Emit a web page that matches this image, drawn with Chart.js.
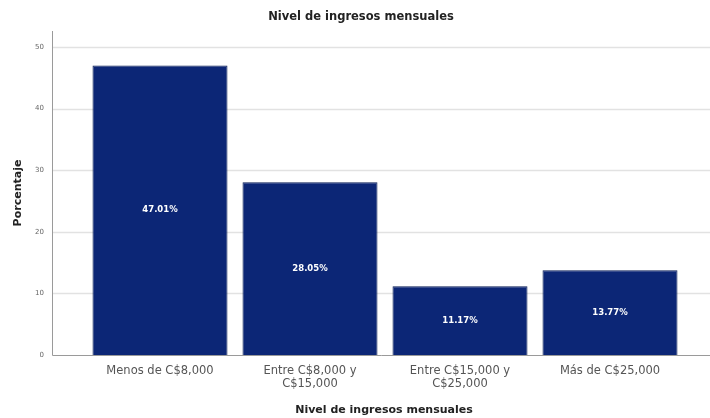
<!DOCTYPE html>
<html>
<head>
<meta charset="utf-8">
<script src="https://cdn.jsdelivr.net/npm/chart.js@4"></script>
<style>
  html, body { margin: 0; padding: 0; background: #fff; }
  #wrap { width: 710px; height: 418px; }
</style>
</head>
<body>
<div id="wrap"><canvas id="chart-area"></canvas></div>
<script>
// datos
let categorias = [
  ['Menos de C$8,000'],
  ['Entre C$8,000 y', 'C$15,000'],
  ['Entre C$15,000 y', 'C$25,000'],
  ['Más de C$25,000']
];
let porcentajes = [47.01, 28.05, 11.17, 13.77];
let ticksY = [0, 10, 20, 30, 40, 50];

let tituloGrafico = 'Nivel de ingresos mensuales';
let tituloX = 'Nivel de ingresos mensuales';
let tituloY = 'Porcentaje';

const fuente = '"DejaVu Sans", Verdana, sans-serif';

// rejilla, ejes, etiquetas y titulos estilo SPSS
const extras = {
  id: 'extras',
  beforeDatasetsDraw(chart) {
    const ctx = chart.ctx;
    const y = chart.scales.y;
    const left = 52, right = 710;
    ctx.save();
    ctx.strokeStyle = '#e2e2e2';
    ctx.lineWidth = 1.5;
    ticksY.forEach(function (t) {
      if (t === 0) return;
      const py = Math.round(y.getPixelForValue(t)) + 0.5;
      ctx.beginPath();
      ctx.moveTo(left, py);
      ctx.lineTo(right, py);
      ctx.stroke();
    });
    ctx.strokeStyle = '#9a9a9a';
    ctx.lineWidth = 1;
    const base = Math.round(y.getPixelForValue(0)) + 0.5;
    ctx.beginPath();
    ctx.moveTo(left + 0.5, 31);
    ctx.lineTo(left + 0.5, base);
    ctx.lineTo(right, base);
    ctx.stroke();
    ctx.restore();
  },
  afterDraw(chart) {
    const ctx = chart.ctx;
    const meta = chart.getDatasetMeta(0);
    ctx.save();
    ctx.fillStyle = '#ffffff';
    ctx.font = 'bold 8.5px ' + fuente;
    ctx.textAlign = 'center';
    ctx.textBaseline = 'middle';
    meta.data.forEach(function (bar, i) {
      ctx.fillText(porcentajes[i].toFixed(2) + '%', bar.x, (bar.y + bar.base) / 2);
    });
    ctx.fillStyle = '#222';
    ctx.font = 'bold 11.5px ' + fuente;
    ctx.fillText(tituloGrafico, 361, 17);
    ctx.font = 'bold 11px ' + fuente;
    ctx.fillText(tituloX, 384, 410);
    ctx.translate(18, 193);
    ctx.rotate(-Math.PI / 2);
    ctx.fillText(tituloY, 0, 0);
    ctx.restore();
  }
};

var ctx = document.getElementById('chart-area').getContext('2d');
var chart = new Chart(ctx, {
  type: 'bar',
  data: {
    labels: categorias,
    datasets: [{
      data: porcentajes,
      backgroundColor: '#0c2676',
      borderColor: '#081c56',
      borderWidth: 1,
      barPercentage: 0.9,
      categoryPercentage: 1.0
    }]
  },
  options: {
    responsive: true,
    maintainAspectRatio: false,
    animation: false,
    layout: { padding: { top: 47, right: 25, left: 0, bottom: 0 } },
    plugins: {
      legend: { display: false },
      tooltip: { enabled: false }
    },
    scales: {
      x: {
        grid: { display: false, drawTicks: false },
        border: { display: false },
        ticks: {
          color: '#555',
          padding: 9,
          maxRotation: 0,
          autoSkip: false,
          font: { family: fuente, size: 11.5, lineHeight: 1.15 }
        },
        afterFit(scale) { scale.height = 63; }
      },
      y: {
        min: 0,
        max: 50,
        grid: { display: false, drawTicks: false },
        border: { display: false },
        afterBuildTicks(scale) {
          scale.ticks = ticksY.map(function (v) { return { value: v }; });
        },
        ticks: {
          color: '#666',
          padding: 41,
          font: { family: fuente, size: 7 }
        },
        afterFit(scale) { scale.width = 85; }
      }
    }
  },
  plugins: [extras]
});
</script>
</body>
</html>
